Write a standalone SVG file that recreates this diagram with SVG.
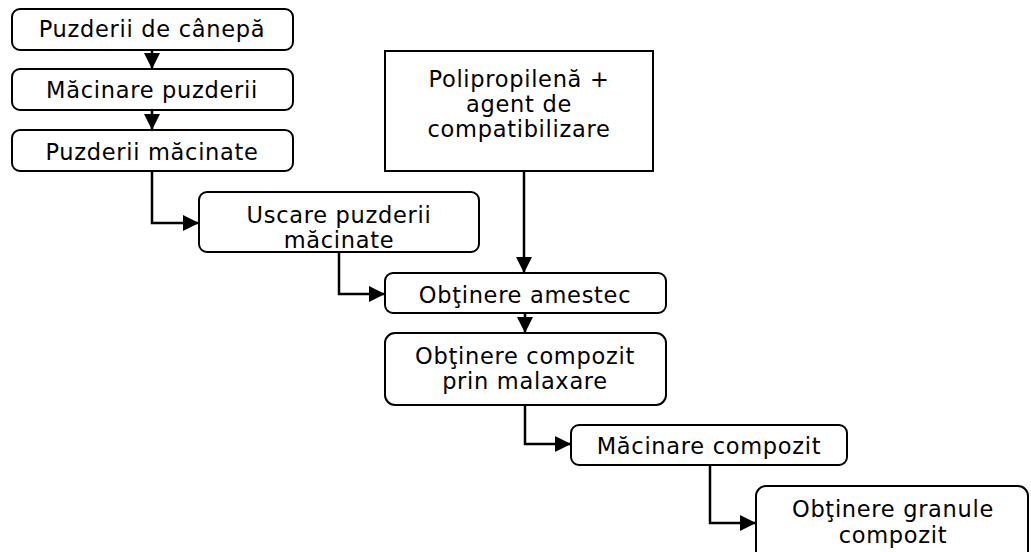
<svg xmlns="http://www.w3.org/2000/svg" width="1031" height="552" viewBox="0 0 1031 552">
<style>
.box{fill:#fff;stroke:#000;stroke-width:2}
.t{font-family:"DejaVu Sans",Verdana,sans-serif;font-size:22.5px;letter-spacing:0.7px;fill:#000;text-anchor:middle}
.c{fill:none;stroke:#000;stroke-width:2.5}
</style>
<defs>
<marker id="ah" markerUnits="userSpaceOnUse" markerWidth="16" markerHeight="16" viewBox="0 0 16 16" refX="16" refY="8" orient="auto">
<path d="M0,0 L16,8 L0,16 Z" fill="#000"/>
</marker>
</defs>
<rect width="1031" height="552" fill="#fff"/>
<g id="n1"><rect class="box" x="12" y="9" width="281" height="41" rx="8"/><text class="t" x="152" y="37">Puzderii de cânepă</text></g>
<g id="n2"><rect class="box" x="12" y="69" width="281" height="41" rx="8"/><text class="t" x="152" y="98">Măcinare puzderii</text></g>
<g id="n3"><rect class="box" x="12" y="130" width="281" height="41" rx="8"/><text class="t" x="152" y="160">Puzderii măcinate</text></g>
<g id="n4"><rect class="box" x="199" y="192" width="280" height="60" rx="8"/><text class="t" x="339" y="223">Uscare puzderii</text><text class="t" x="339" y="248">măcinate</text></g>
<g id="n5"><rect class="box" x="385" y="51" width="268" height="120"/><text class="t" x="519" y="87">Polipropilenă +</text><text class="t" x="519" y="112">agent de</text><text class="t" x="519" y="137">compatibilizare</text></g>
<g id="n6"><rect class="box" x="385" y="273" width="281" height="40" rx="8"/><text class="t" x="525" y="303">Obţinere amestec</text></g>
<g id="n7"><rect class="box" x="385" y="333" width="281" height="72" rx="10"/><text class="t" x="525" y="364">Obţinere compozit</text><text class="t" x="525" y="389">prin malaxare</text></g>
<g id="n8"><rect class="box" x="571" y="425" width="276" height="40" rx="8"/><text class="t" x="709" y="454">Măcinare compozit</text></g>
<g id="n9"><rect class="box" x="756" y="486" width="272" height="80" rx="10"/><text class="t" x="893" y="517">Obţinere granule</text><text class="t" x="893" y="543">compozit</text></g>
<g id="connectors">
<path class="c" d="M152,50 V69" marker-end="url(#ah)"/>
<path class="c" d="M152,110 V130" marker-end="url(#ah)"/>
<path class="c" d="M152,171 V223 H199" marker-end="url(#ah)"/>
<path class="c" d="M524,171 V273" marker-end="url(#ah)"/>
<path class="c" d="M339,252 V294 H385" marker-end="url(#ah)"/>
<path class="c" d="M525,313 V333" marker-end="url(#ah)"/>
<path class="c" d="M525,405 V444 H571" marker-end="url(#ah)"/>
<path class="c" d="M710,465 V523 H756" marker-end="url(#ah)"/>
</g>
</svg>
